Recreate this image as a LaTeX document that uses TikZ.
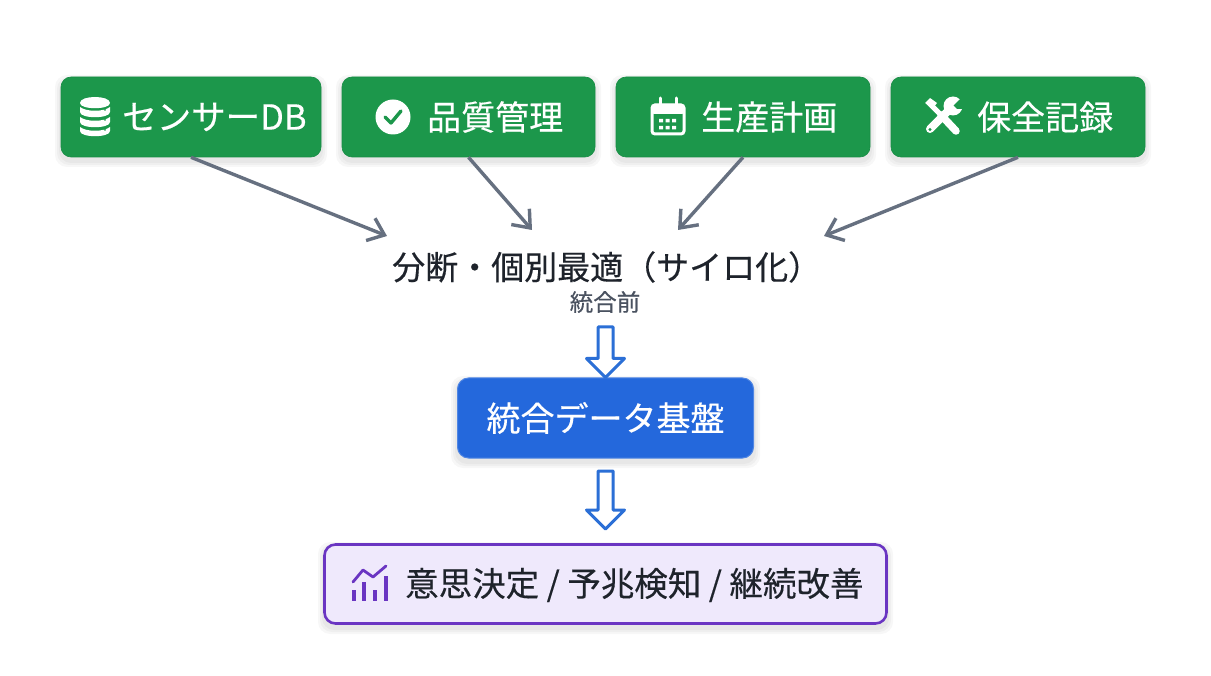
\documentclass[tikz,border=0pt]{standalone}
\usepackage{fontspec}
\setmainfont[FakeBold=0.35]{Noto Sans CJK JP}
\usetikzlibrary{arrows.meta,calc}
\definecolor{grn}{HTML}{1C974B}
\definecolor{grnd}{HTML}{178C44}
\definecolor{blu}{HTML}{2468DC}
\definecolor{blul}{HTML}{2B6FD6}
\definecolor{pur}{HTML}{6A35C2}
\definecolor{purl}{HTML}{EFE9FC}
\definecolor{slate}{HTML}{667080}
\definecolor{ink}{HTML}{1E232B}
\definecolor{subink}{HTML}{4A5260}
\tikzset{
  srcbox/.style={draw=grnd,line width=.6pt,fill=grn,rounded corners=10pt,minimum height=80pt,inner sep=0pt,anchor=center},
  srclabel/.style={text=white,font=\fontsize{34}{34}\selectfont,anchor=west,inner sep=0pt},
  midbox/.style={draw=blu!80!white,line width=1pt,fill=blu,rounded corners=11pt,minimum width=296pt,minimum height=80pt,text=white,font=\fontsize{34}{34}\selectfont,inner sep=0pt},
  outbox/.style={draw=pur,line width=2.6pt,fill=purl,rounded corners=11pt,minimum width=562pt,minimum height=79pt,inner sep=0pt},
  feed/.style={draw=slate,line width=3.4pt,-{Straight Barb[length=15pt,width=24pt,line width=3.4pt]}},
  blockarrow/.style={draw=blul,line width=3pt,fill=white,line join=round},
}
\newcommand{\blockarr}[2]{%
  \path[blockarrow] let \p1=(#1),\p2=(#2) in
    (\x1-7.5pt,\y1) -- (\x1+7.5pt,\y1) -- (\x1+7.5pt,\y2+19pt) -- (\x1+19pt,\y2+19pt)
    -- (\x2,\y2) -- (\x1-19pt,\y2+19pt) -- (\x1-7.5pt,\y2+19pt) -- cycle;}
\begin{document}
\begin{tikzpicture}[x=1pt,y=-1pt]
\useasboundingbox[fill=white] (0,0) rectangle (1211,676);
% shadows
\foreach \a/\b/\c/\d in {61/77/321/157,342/77/595/157,616/77/870/157,891/77/1145/157,457/378/754/458,324/544/887/624}{
  \foreach \g in {6,4,2}{\fill[fill=black,fill opacity=.03,rounded corners=12pt] (\a-\g,\b-\g+4) rectangle (\c+\g,\d+\g+4);}
}
% source boxes
\node[srcbox,minimum width=260pt] (db) at (191,117) {};
\node[srcbox,minimum width=253pt] (qc) at (468.5,117) {};
\node[srcbox,minimum width=254pt] (plan) at (743,117) {};
\node[srcbox,minimum width=254pt] (maint) at (1018,117) {};
\node[srclabel,font=\fontsize{34.5}{34}\selectfont] (dbt) at (122,117) {センサーDB};
\node[srclabel] (qct) at (427,117) {品質管理};
\node[srclabel] (plant) at (701,117) {生産計画};
\node[srclabel] (maintt) at (977,117) {保全記録};
% database icon
\fill[white] (80,103) .. controls (80,95) and (110,95) .. (110,103) .. controls (110,110) and (80,110) .. (80,103) -- cycle;
\fill[white] (80,107) .. controls (86,112) and (104,112) .. (110,107) -- (110,112) .. controls (110,119) and (80,119) .. (80,112) -- cycle;
\fill[white] (80,117) .. controls (86,122) and (104,122) .. (110,117) -- (110,122) .. controls (110,129) and (80,129) .. (80,122) -- cycle;
\fill[white] (80,127) .. controls (86,132) and (104,132) .. (110,127) -- (110,131) .. controls (110,138) and (80,138) .. (80,131) -- cycle;
\fill[grn] (105,110) circle (1pt) (105,120) circle (1pt) (105,130) circle (1pt);
% check icon
\fill[white] (393,117) circle (17.5);
\draw[grn,line width=3.4pt,line cap=round,line join=round] (385,117) -- (391,123) -- (401,111);
% calendar icon
\draw[white,line width=3pt,rounded corners=3pt] (652,105) rectangle (684,134);
\fill[white,rounded corners=2pt] (652,104) rectangle (684,114);
\draw[white,line width=3pt,line cap=round] (660,98) -- (660,105) (676,98) -- (676,105);
\fill[white] \foreach \x in {659,665.5,672}{\foreach \y in {119,126}{(\x,\y) rectangle +(4,3.5)}};
% tools icon
\draw[white,line width=5pt] (928,102) -- (942,116);
\fill[white] (925,103) -- (930,98) -- (937,103) -- (933,108) -- cycle;
\draw[white,line width=7.5pt,line cap=round] (941,115) -- (956,131);
\draw[white,line width=8pt,line cap=round] (930,129) -- (950,109);
\fill[white] (953,106) circle (9.5);
\fill[grn] (953.5,105.5) -- (959,100) -- (966,95) -- (968,105) -- (962,109) -- (957,109) -- cycle;
\fill[grn] (930,129.5) circle (1.6);
% arrows
\coordinate (t1) at (387,236);
\coordinate (t2) at (532,230);
\coordinate (t3) at (678,230);
\coordinate (t4) at (824,236);
\draw[feed] (db.south) -- (t1);
\draw[feed] (qc.south) -- (t2);
\draw[feed] (plan.south) -- (t3);
\draw[feed] (maint.south) -- (t4);
% middle labels
\node[text=ink,font=\fontsize{33}{33}\selectfont,inner sep=0pt,anchor=west] (silo) at (392,267) {分断・個別最適（サイロ化）};
\node[text=subink,font=\fontsize{23.5}{23}\selectfont,inner sep=0pt] (pre) at (605,302) {統合前};
% platform
\node[midbox] (hub) at (605.5,418) {統合データ基盤};
\node[outbox] (out) at (605.5,584) {};
\node[text=ink,font=\fontsize{33.5}{33}\selectfont,anchor=west,inner sep=0pt] (outt) at (405,585) {意思決定 / 予兆検知 / 継続改善};
% chart icon
\draw[pur,line width=2.8pt,line cap=round,line join=round] (353,582) -- (363,570) -- (373,577) -- (386,566);
\draw[pur,line width=3.4pt] (354,590) -- (354,601) (364,582) -- (364,601) (375,590) -- (375,601) (386,576) -- (386,601);
% block arrows
\coordinate (a1s) at (605.5,327);
\coordinate (a2s) at (605.5,471);
\coordinate (a2e) at (605.5,529);
\blockarr{a1s}{hub.north}
\blockarr{a2s}{a2e}
\end{tikzpicture}
\end{document}
